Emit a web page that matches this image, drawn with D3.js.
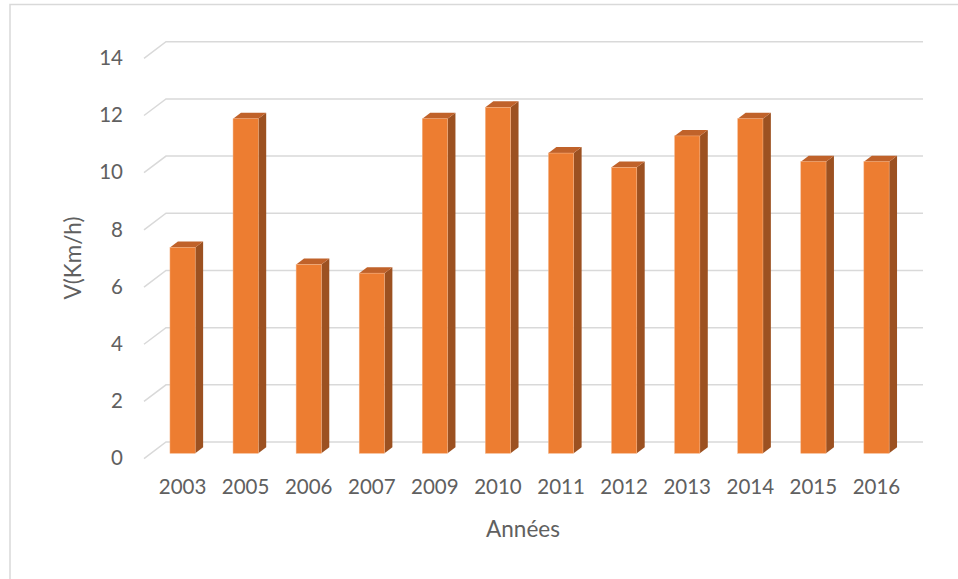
<!DOCTYPE html>
<html>
<head>
<meta charset="utf-8">
<script src="https://cdn.jsdelivr.net/npm/d3@7"></script>
<style>
  body { margin: 0; background: #fff; }
  text { font-family: Lato, "Open Sans", sans-serif; fill: #606060; }
</style>
</head>
<body>
<div id="chart"></div>
<script>
(function(){
    'use strict';

    var years = ["2003", "2005", "2006", "2007", "2009", "2010", "2011", "2012", "2013", "2014", "2015", "2016"];
    var speeds = [7.2, 11.7, 6.6, 6.3, 11.7, 12.1, 10.5, 10.0, 11.1, 11.7, 10.2, 10.2];
    var yTicks = [0, 2, 4, 6, 8, 10, 12, 14];

    var width = 958, height = 579;
    // oblique depth of the 3d box
    var depthX = 22, depthY = 16.6;
    var barT0 = 0.32, barT1 = 0.68;

    var svg = d3.select("#chart")
        .append("svg")
        .attr("width", width)
        .attr("height", height);

    // chart area border
    svg.append("rect")
        .attr("x", 10).attr("y", 4.5)
        .attr("width", 960).attr("height", 600)
        .attr("fill", "none")
        .attr("stroke", "#d9d9d9")
        .attr("stroke-width", 1.5);

    var x = d3.scaleBand()
        .domain(years)
        .range([144, 901])
        .paddingInner(0.6)
        .paddingOuter(0.3);

    var y = d3.scaleLinear()
        .domain([0, 14])
        .range([458.6, 58.3]);

    // gridlines: side wall diagonal + back wall horizontal
    var grid = svg.append("g");
    grid.selectAll("path").data(yTicks).enter()
        .append("path")
        .attr("d", function(d) {
            var y0 = y(d);
            return "M144," + y0 + "L" + (144 + depthX) + "," + (y0 - depthY) +
                "L923," + (y0 - depthY);
        })
        .attr("fill", "none")
        .attr("stroke", "#d9d9d9")
        .attr("stroke-width", 1.5);

    // y tick labels
    svg.append("g").selectAll("text").data(yTicks).enter()
        .append("text")
        .attr("x", 123)
        .attr("y", function(d) { return y(d) + 1.5; })
        .attr("text-anchor", "end")
        .attr("dominant-baseline", "middle")
        .style("font-size", "20.5px")
        .text(function(d) { return d; });

    // x tick labels
    svg.append("g").selectAll("text").data(years).enter()
        .append("text")
        .attr("x", function(d) { return x(d) + x.bandwidth() / 2 + 7; })
        .attr("y", 489)
        .attr("text-anchor", "middle")
        .attr("dominant-baseline", "middle")
        .style("font-size", "20.5px")
        .text(function(d) { return d; });

    // axis titles
    svg.append("text")
        .attr("x", 523).attr("y", 531)
        .attr("text-anchor", "middle")
        .attr("dominant-baseline", "middle")
        .style("font-size", "22.5px")
        .text("Années");

    svg.append("text")
        .attr("transform", "translate(75,258) rotate(-90)")
        .attr("text-anchor", "middle")
        .attr("dominant-baseline", "middle")
        .style("font-size", "22.5px")
        .text("V(Km/h)");

    // 3d columns
    var ox0 = depthX * barT0, oy0 = depthY * barT0;
    var dx = depthX * (barT1 - barT0), dy = depthY * (barT1 - barT0);
    var bw = x.bandwidth();

    var bars = svg.append("g").selectAll("g")
        .data(years.map(function(yr, i) { return {year: yr, v: speeds[i]}; }))
        .enter().append("g")
        .attr("transform", function(d) { return "translate(" + (x(d.year) + ox0) + "," + (-oy0) + ")"; });

    bars.append("path")
        .attr("d", function(d) {
            var top = y(d.v), bot = y(0);
            return "M" + bw + "," + top + "L" + (bw + dx) + "," + (top - dy) +
                "L" + (bw + dx) + "," + (bot - dy) + "L" + bw + "," + bot + "Z";
        })
        .attr("fill", "#9c5121");

    bars.append("path")
        .attr("d", function(d) {
            var top = y(d.v);
            return "M0," + top + "L" + dx + "," + (top - dy) +
                "L" + (bw + dx) + "," + (top - dy) + "L" + bw + "," + top + "Z";
        })
        .attr("fill", "#c0622a");

    bars.append("rect")
        .attr("x", 0)
        .attr("y", function(d) { return y(d.v); })
        .attr("width", bw)
        .attr("height", function(d) { return y(0) - y(d.v); })
        .attr("fill", "#ed7d31")
        .attr("stroke", "#f4b183")
        .attr("stroke-width", 0.5);
})()
</script>
</body>
</html>
